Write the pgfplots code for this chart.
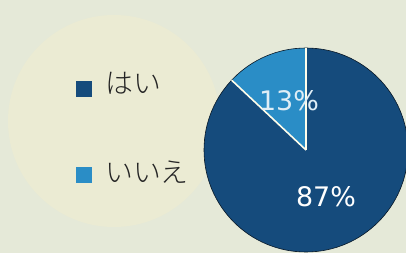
\documentclass[border=0pt]{standalone}
\usepackage{fontspec}
\usepackage{pgfplots}
\usepackage{pgfplotstable}
\pgfplotsset{compat=1.18}
\newfontfamily\jpfont{Noto Sans CJK JP Light}
\newfontfamily\numfont{DejaVu Sans}
\definecolor{bgcol}{HTML}{E5E9D8}
\definecolor{circcol}{HTML}{EBEBD3}
\definecolor{darkblue}{HTML}{154B7C}
\definecolor{lightblue}{HTML}{2A8DC6}
\definecolor{txtcol}{HTML}{252525}
\pgfplotstableread{
label value
yes 87
no 13
}\piedata
\begin{document}
\begin{tikzpicture}
\pgfplotstablegetelem{0}{value}\of\piedata \pgfmathsetmacro{\vYes}{\pgfplotsretval}
\pgfplotstablegetelem{1}{value}\of\piedata \pgfmathsetmacro{\vNo}{\pgfplotsretval}
\pgfmathsetmacro{\aNo}{90+\vNo*3.6}
\pgfmathsetmacro{\aEnd}{\aNo+\vYes*3.6}
\clip (0,0) rectangle (406bp,253bp);
\begin{axis}[
  at={(0,0)}, anchor=origin,
  width=406bp, height=253bp, scale only axis,
  xmin=0, xmax=406, ymin=0, ymax=253,
  axis lines=none, clip=false,
]
\addplot[draw=none] coordinates {(0,0) (406,253)};
\fill[bgcol] (axis cs:-5,-5) rectangle (axis cs:411,258);
\fill[circcol] (axis cs:114,132) circle[radius=106bp];
% pie
\fill[darkblue] (axis cs:306,103) -- ++(\aNo:102bp) arc[start angle=\aNo, end angle=\aEnd, radius=102bp] -- cycle;
\fill[lightblue] (axis cs:306,103) -- ++(90:102bp) arc[start angle=90, end angle=\aNo, radius=102bp] -- cycle;
\draw[black!70!darkblue, line width=0.6bp] (axis cs:306,103) circle[radius=102bp];
\draw[white!92!yellow, line width=1.6bp] (axis cs:306,103) -- ++(90:102bp);
\draw[white!92!yellow, line width=1.6bp] (axis cs:306,103) -- ++(\aNo:102bp);
\node[text=white!85!lightblue, font=\numfont\fontsize{27}{29}\selectfont] at (axis cs:289,152) {13\%};
\node[text=white, font=\numfont\fontsize{27}{29}\selectfont] at (axis cs:326,56) {87\%};
% legend
\fill[darkblue] (axis cs:76,156) rectangle (axis cs:92,172);
\fill[lightblue] (axis cs:76,70) rectangle (axis cs:92,86);
\node[anchor=west, text=txtcol, font=\jpfont\fontsize{28}{30}\selectfont, inner sep=0pt] at (axis cs:105,170) {はい};
\node[anchor=west, text=txtcol, font=\jpfont\fontsize{28}{30}\selectfont, inner sep=0pt] at (axis cs:105,81) {いいえ};
\end{axis}
\end{tikzpicture}
\end{document}
